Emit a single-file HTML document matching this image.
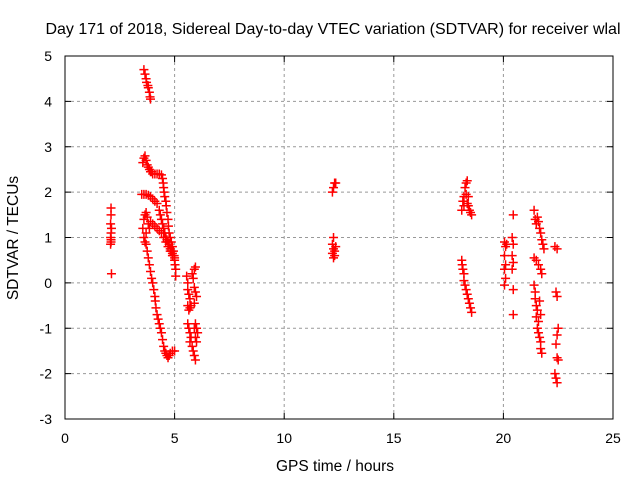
<!DOCTYPE html>
<html><head><meta charset="utf-8"><style>
body{margin:0;background:#fff}
svg{display:block;font-family:"Liberation Sans",sans-serif}
</style></head><body>
<svg id="c" width="640" height="480">
<text x="333" y="34" text-anchor="middle" font-size="16">Day 171 of 2018, Sidereal Day-to-day VTEC variation (SDTVAR) for receiver wlal</text>
<text x="335" y="471" text-anchor="middle" font-size="15.5">GPS time / hours</text>
<text transform="translate(18,238) rotate(-90)" text-anchor="middle" font-size="15.5">SDTVAR / TECUs</text>
<g id="grid"></g><g id="pts"></g>
<rect x="65" y="56" width="548" height="363" fill="none" stroke="#000"/>
</svg>
<script>
const xTicks=[0,5,10,15,20,25];
const yTicks=[-3,-2,-1,0,1,2,3,4,5];
const hours=[2.1,2.1,2.08,2.12,2.1,2.08,2.1,2.08,2.1,2.12,
3.6,3.65,3.7,3.72,3.78,3.8,3.85,3.88,3.9,
3.55,3.6,3.65,3.7,3.75,3.8,3.85,3.9,3.95,4.0,4.1,4.2,4.3,4.4,4.45,4.48,4.5,4.52,4.55,4.6,4.62,4.65,4.7,4.72,4.75,4.8,4.85,4.9,4.95,4.98,5.0,5.02,5.05,5.05,
3.5,3.6,3.7,3.8,3.9,4.0,4.1,4.2,4.3,4.35,4.4,4.45,4.5,4.55,4.6,4.65,4.7,4.75,4.8,4.85,4.9,
3.55,3.6,3.65,3.7,3.75,3.6,3.65,3.7,3.8,3.85,3.9,4.0,4.1,4.2,4.3,4.4,4.5,4.6,4.7,4.8,4.9,5.0,
3.7,3.75,3.8,3.85,3.9,3.95,4.0,4.05,4.1,4.12,4.15,4.2,4.25,4.3,4.35,4.4,4.45,4.5,4.55,4.6,4.65,4.7,4.75,4.8,4.9,5.0,
5.55,5.6,5.6,5.65,5.7,5.6,5.65,5.7,5.75,5.6,5.65,5.7,5.75,5.7,5.8,5.85,5.9,5.95,5.8,5.9,5.95,5.85,5.9,5.95,6.0,5.9,5.95,6.0,6.05,5.95,6.0,5.9,
12.2,12.25,12.3,12.35,12.25,12.2,12.25,12.3,12.2,12.3,12.35,12.25,
18.1,18.15,18.2,18.25,18.3,18.35,18.3,18.35,18.4,18.45,18.5,18.55,18.2,18.4,
18.1,18.12,18.15,18.2,18.2,18.25,18.3,18.35,18.4,18.45,18.5,18.55,
20.05,20.1,20.05,20.1,20.05,20.1,20.05,20.15,20.45,20.4,20.45,20.4,20.45,20.4,20.45,20.45,
21.4,21.45,21.5,21.55,21.6,21.65,21.7,21.75,21.8,21.85,21.4,21.5,21.6,21.7,21.75,
21.4,21.45,21.45,21.5,21.55,21.5,21.6,21.55,21.6,21.65,21.7,21.7,21.75,21.7,21.65,
22.35,22.45,22.4,22.45,22.5,22.45,22.4,22.45,22.5,22.35,22.4,22.45];
const tecu=[1.65,1.5,1.3,1.2,1.1,1.0,0.9,0.85,0.95,0.2,
4.7,4.6,4.5,4.42,4.35,4.3,4.2,4.1,4.05,
2.65,2.75,2.8,2.7,2.6,2.55,2.5,2.45,2.45,2.4,2.4,2.4,2.4,2.38,2.3,2.2,2.1,2.0,1.9,1.8,1.7,1.55,1.4,1.25,1.1,1.0,0.9,0.8,0.7,0.6,0.5,0.4,0.3,0.15,
1.95,1.95,1.95,1.93,1.9,1.85,1.8,1.75,1.6,1.5,1.4,1.3,1.2,1.1,1.0,0.95,0.9,0.85,0.75,0.7,0.65,
1.2,1.4,1.5,1.55,1.45,1.0,0.9,1.1,1.3,1.2,1.35,1.3,1.25,1.2,1.15,1.1,1.0,0.9,0.8,0.7,0.6,0.55,
0.85,0.7,0.55,0.4,0.25,0.1,0.0,-0.15,-0.3,-0.4,-0.55,-0.7,-0.8,-0.9,-1.0,-1.1,-1.25,-1.4,-1.5,-1.55,-1.6,-1.65,-1.6,-1.55,-1.5,-1.5,
0.15,0.0,-0.15,-0.25,-0.35,-0.5,-0.6,-0.55,-0.5,-0.9,-1.0,-1.1,-1.2,-1.3,-1.4,-1.5,-1.6,-1.7,0.2,0.3,0.35,0.1,-0.1,-0.2,-0.3,-0.45,-0.9,-1.0,-1.1,-1.2,-1.3,-1.0,
2.0,2.1,2.2,2.2,1.0,0.85,0.75,0.7,0.65,0.6,0.8,0.55,
1.6,1.8,1.9,2.1,2.2,2.25,1.95,1.75,1.7,1.6,1.55,1.5,1.7,1.9,
0.5,0.4,0.3,0.2,0.05,-0.05,-0.15,-0.25,-0.35,-0.45,-0.55,-0.65,
0.9,0.8,0.6,0.4,0.3,0.1,-0.05,0.85,1.5,1.0,0.85,0.6,0.45,0.3,-0.15,-0.7,
1.6,1.4,1.3,1.45,1.35,1.2,1.1,0.95,0.85,0.75,0.55,0.5,0.4,0.3,0.2,
-0.05,-0.2,-0.35,-0.5,-0.6,-0.75,-0.85,-1.0,-1.1,-1.2,-1.3,-1.45,-1.55,-0.7,-0.4,
0.8,0.75,-0.2,-0.3,-1.0,-1.15,-1.35,-1.65,-1.7,-2.0,-2.1,-2.2];
const X=v=>65+v*548/25, Y=v=>419-(v+3)*363/8;
const NS="http://www.w3.org/2000/svg";
const grid=document.getElementById('grid'), pts=document.getElementById('pts');
function mk(tag,at,parent){const e=document.createElementNS(NS,tag);for(const k in at)e.setAttribute(k,at[k]);parent.appendChild(e);return e;}
xTicks.forEach(t=>{const x=X(t);
 if(t>0&&t<25){const g=mk('line',{x1:x,x2:x,y1:56,y2:419,stroke:'#999','stroke-dasharray':'3,3'},grid);
 
 }
 mk('line',{x1:x,x2:x,y1:419,y2:413,stroke:'#000'},grid);mk('line',{x1:x,x2:x,y1:56,y2:62,stroke:'#000'},grid);
 const l=mk('text',{x:x,y:443,'text-anchor':'middle','font-size':14},grid);l.textContent=t;
 
 });
yTicks.forEach(t=>{const y=Y(t);
 if(t>-3&&t<5){const g=mk('line',{x1:65,x2:613,y1:y,y2:y,stroke:'#999','stroke-dasharray':'3,3'},grid);
 
 }
 mk('line',{x1:65,x2:71,y1:y,y2:y,stroke:'#000'},grid);mk('line',{x1:613,x2:607,y1:y,y2:y,stroke:'#000'},grid);
 const l=mk('text',{x:52,y:y+5,'text-anchor':'end','font-size':14},grid);l.textContent=t;
 
 });
hours.forEach((h,i)=>{const x=X(h),y=Y(tecu[i]);
 const p=mk('path',{d:`M${x-4.5},${y}h9M${x},${y-4.5}v9`,stroke:'#f00','stroke-width':1.5,fill:'none'},pts);
 
 });
</script>
</body></html>
